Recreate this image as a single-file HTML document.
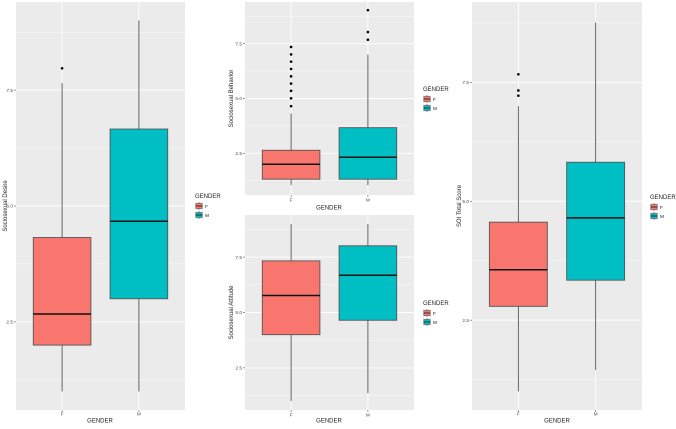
<!DOCTYPE html>
<html><head><meta charset="utf-8"><style>
body{margin:0;background:#fff;width:676px;height:424px;overflow:hidden;font-family:"Liberation Sans",sans-serif}
svg text{font-family:"Liberation Sans",sans-serif}
</style></head><body>
<svg id="c" width="676" height="424" viewBox="0 0 676 424"></svg>
<script>
const categories = ["F","M"];
const panelNames = ["sociosexual-desire","sociosexual-behavior","sociosexual-attitude","soi-total-score"];
const yTitles = ["Sociosexual Desire","Sociosexual Behavior","Sociosexual Attitude","SOI Total Score"];
const yTicks = [2.5,5.0,7.5];
const yTickLabels = ["2.5","5.0","7.5"];
const yDomains = [[0.6,9.4],[0.6,9.4],[0.6,9.4],[0.61,9.19]];
// [lowerWhisker, Q1, median, Q3, upperWhisker] per category
const desireStats = [[1.0,2.0,2.67,4.32,7.65],[1.0,3.0,4.67,6.66,9.0]];
const behaviorStats = [[1.05,1.32,2.0,2.64,4.32],[1.05,1.32,2.32,3.67,7.0]];
const attitudeStats = [[1.0,4.0,5.77,7.33,9.0],[1.36,4.65,6.68,8.01,9.0]];
const totalStats = [[1.0,2.79,3.56,4.56,7.0],[1.45,3.34,4.65,5.82,8.76]];
const desireOutliers = [[7.97],[]];
const behaviorOutliers = [[7.35,7.01,6.68,6.35,6.01,5.68,5.35,5.01,4.65],[9.03,8.03,7.68]];
const attitudeOutliers = [[],[]];
const totalOutliers = [[7.67,7.33,7.22],[]];
const allStats=[desireStats,behaviorStats,attitudeStats,totalStats];
const allOut=[desireOutliers,behaviorOutliers,attitudeOutliers,totalOutliers];
const layout=[
 {x0:16,x1:185,y0:2,y1:410,yt:5,xl:414,gx:100,gy:421,lx:195,ly:196},
 {x0:245,x1:414,y0:2,y1:195,yt:231,xl:200,gx:329,gy:208,lx:423,ly:89},
 {x0:245,x1:414,y0:215,y1:410,yt:231,xl:415,gx:329,gy:421,lx:423,ly:303},
 {x0:472,x1:642,y0:2,y1:410,yt:459,xl:414,gx:557,gy:421,lx:650,ly:197}];
const colors=["#F8766D","#00BFC4"];
const svg=document.getElementById('c');
const NS="http://www.w3.org/2000/svg";
function mk(tag,attrs,parent){const e=document.createElementNS(NS,tag);for(const k in attrs)e.setAttribute(k,attrs[k]);(parent||svg).appendChild(e);return e;}
layout.forEach((L,p)=>{
 const g=mk('g',{});
 
 
 const [d0,d1]=yDomains[p];
 const ys=v=>L.y1-(v-d0)/(d1-d0)*(L.y1-L.y0);
 const unit=(L.x1-L.x0)/2.2;
 const xs=i=>L.x0+unit*(i+0.6);
 const bg=mk('rect',{x:L.x0,y:L.y0,width:L.x1-L.x0,height:L.y1-L.y0,fill:'#EBEBEB'},g);
 
 
 [1.25,3.75,6.25,8.75].forEach(v=>{if(v>d0&&v<d1)mk('line',{x1:L.x0,x2:L.x1,y1:ys(v),y2:ys(v),stroke:'#fff','stroke-width':0.4},g);});
 yTicks.forEach((v,i)=>{
  mk('line',{x1:L.x0,x2:L.x1,y1:ys(v),y2:ys(v),stroke:'#fff','stroke-width':0.9},g);
  mk('line',{x1:L.x0-2,x2:L.x0,y1:ys(v),y2:ys(v),stroke:'#333','stroke-width':0.5},g);
  const t=mk('text',{x:L.x0-3,y:ys(v)+1.7,'font-size':4.8,fill:'#4d4d4d','text-anchor':'end'},g);
  t.textContent=yTickLabels[i];
  
  
 });
 categories.forEach((c,i)=>{
  mk('line',{x1:xs(i),x2:xs(i),y1:L.y0,y2:L.y1,stroke:'#fff','stroke-width':0.9},g);
  mk('line',{x1:xs(i),x2:xs(i),y1:L.y1,y2:L.y1+2,stroke:'#333','stroke-width':0.5},g);
  const t=mk('text',{x:xs(i),y:L.xl+1.5,'font-size':4.8,fill:'#4d4d4d','text-anchor':'middle'},g);
  t.textContent=c;
  
  
 });
 allStats[p].forEach((s,i)=>{
  const bx=mk('g',{},g);
  
  
  const hw=unit*0.75/2;
  mk('line',{x1:xs(i),x2:xs(i),y1:ys(s[0]),y2:ys(s[1]),stroke:'#555','stroke-width':0.9},bx);
  mk('line',{x1:xs(i),x2:xs(i),y1:ys(s[3]),y2:ys(s[4]),stroke:'#555','stroke-width':0.9},bx);
  mk('rect',{x:xs(i)-hw,y:ys(s[3]),width:2*hw,height:ys(s[1])-ys(s[3]),fill:colors[i],stroke:'#555','stroke-width':0.9},bx);
  mk('line',{x1:xs(i)-hw,x2:xs(i)+hw,y1:ys(s[2]),y2:ys(s[2]),stroke:'#111','stroke-width':1.5},bx);
  allOut[p][i].forEach(v=>{
   const o=mk('circle',{cx:xs(i),cy:ys(v),r:1.3,fill:'#000'},bx);
   
   
  });
 });
 const yt=mk('text',{x:0,y:0,'font-size':6,fill:'#222','text-anchor':'middle',transform:`translate(${L.yt+2},${(L.y0+L.y1)/2}) rotate(-90)`},g);
 yt.textContent=yTitles[p];
 
 
 const xt=mk('text',{x:L.gx,y:L.gy+1.5,'font-size':6,fill:'#222','text-anchor':'middle'},g);
 xt.textContent='GENDER';
 
 
 const lg=mk('g',{},g);
 
 
 const lt=mk('text',{x:L.lx,y:L.ly+2,'font-size':6,fill:'#222'},lg);
 lt.textContent='GENDER';
 categories.forEach((c,i)=>{
  const ky=L.ly+6+i*9;
  const e=mk('g',{},lg);
  
  
  mk('rect',{x:L.lx,y:ky,width:8,height:8,fill:'#F2F2F2'},e);
  mk('line',{x1:L.lx+4,x2:L.lx+4,y1:ky,y2:ky+8,stroke:'#555','stroke-width':0.6},e);
  mk('rect',{x:L.lx+0.8,y:ky+1.5,width:6.4,height:5,fill:colors[i],stroke:'#555','stroke-width':0.6},e);
  mk('line',{x1:L.lx+0.8,x2:L.lx+7.2,y1:ky+4,y2:ky+4,stroke:'#111','stroke-width':0.8},e);
  const tt=mk('text',{x:L.lx+10,y:ky+5.8,'font-size':4.8,fill:'#222'},e);
  tt.textContent=c;
 });
});
</script>
</body></html>
